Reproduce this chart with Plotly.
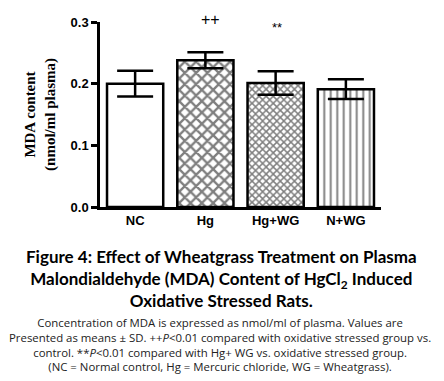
import plotly.graph_objects as go

categories = ["NC", "Hg", "Hg+WG", "N+WG"]
mda_mean = [0.200, 0.238, 0.201, 0.191]
mda_sd = [0.021, 0.013, 0.019, 0.016]
sig_labels = ["", "++", "**", ""]
sig_y = [None, 0.3035, 0.291, None]
y_ticks = [0.0, 0.1, 0.2, 0.3]

patterns = [
    dict(shape=""),
    dict(shape="x", size=8, solidity=0.5, fgcolor="black", bgcolor="white"),
    dict(shape="x", size=5, solidity=0.5, fgcolor="black", bgcolor="white"),
    dict(shape="|", size=6.5, solidity=0.3, fgcolor="black", bgcolor="white"),
]

fig = go.Figure()
for i, c in enumerate(categories):
    fig.add_trace(go.Bar(
        x=[c], y=[mda_mean[i]],
        marker=dict(color="white", line=dict(color="black", width=2.5), pattern=patterns[i]),
        error_y=dict(type="data", array=[mda_sd[i]], visible=True, color="black", thickness=2.5, width=18),
        showlegend=False,
    ))

n = len(categories)
for i, lab in enumerate(sig_labels):
    if lab:
        fig.add_annotation(x=(i + 0.5) / n, xref="paper", yref="paper", y=sig_y[i] / 0.3,
                           text=lab, showarrow=False, borderpad=0,
                           xshift=5 if lab == "++" else 1,
                           font=dict(family="Liberation Sans", size=16 if lab == "++" else 13,
                                     color="black"),
                           xanchor="center", yanchor="middle")

caption_title = ("<b>Figure 4: Effect of Wheatgrass Treatment on Plasma<br>"
                 "Malondialdehyde (MDA) Content of HgCl<sub>2</sub> Induced<br>"
                 "Oxidative Stressed Rats.</b>")
caption_body = ("Concentration of MDA is expressed as nmol/ml of plasma. Values are<br>"
                "Presented as means ± SD. ++<i>P</i>&lt;0.01 compared with oxidative stressed group vs.<br>"
                "control. **<i>P</i>&lt;0.01 compared with Hg+ WG vs. oxidative stressed group.<br>"
                "(NC = Normal control, Hg = Mercuric chloride, WG = Wheatgrass).")

fig.add_annotation(xref="paper", yref="paper", x=(221 - 100) / 281, y=(207 - 244) / 185,
                   text=caption_title, showarrow=False, xanchor="center", yanchor="top",
                   align="center", font=dict(family="Lato", size=17, color="black"))
fig.add_annotation(xref="paper", yref="paper", x=(220 - 100) / 281, y=(207 - 313) / 185,
                   text=caption_body, showarrow=False, xanchor="center", yanchor="top",
                   align="center", font=dict(family="Open Sans", size=11.4, color="#222"))

fig.update_layout(
    width=436, height=373,
    margin=dict(l=92, r=63, t=14, b=174, autoexpand=False),
    plot_bgcolor="white", paper_bgcolor="white",
    bargap=0.2,
    xaxis=dict(showline=True, linecolor="black", linewidth=2.5, ticks="",
               tickfont=dict(family="Liberation Sans", size=13, color="black"),
               tickprefix="<b>", ticksuffix="</b>"),
    yaxis=dict(range=[0, 0.3], tickvals=y_ticks, ticktext=[f"<b>{v:.1f}</b>" for v in y_ticks],
               showline=True, linecolor="black", linewidth=2.5, ticks="outside",
               ticklen=6, tickwidth=2.5, tickcolor="black", showgrid=False, zeroline=False,
               tickfont=dict(family="Liberation Sans", size=13, color="black"),
               title=dict(text="<b>MDA content<br>(nmol/ml plasma)</b>", standoff=12,
                          font=dict(family="Liberation Serif", size=15, color="black"))),
)

fig.write_html("out.html")
